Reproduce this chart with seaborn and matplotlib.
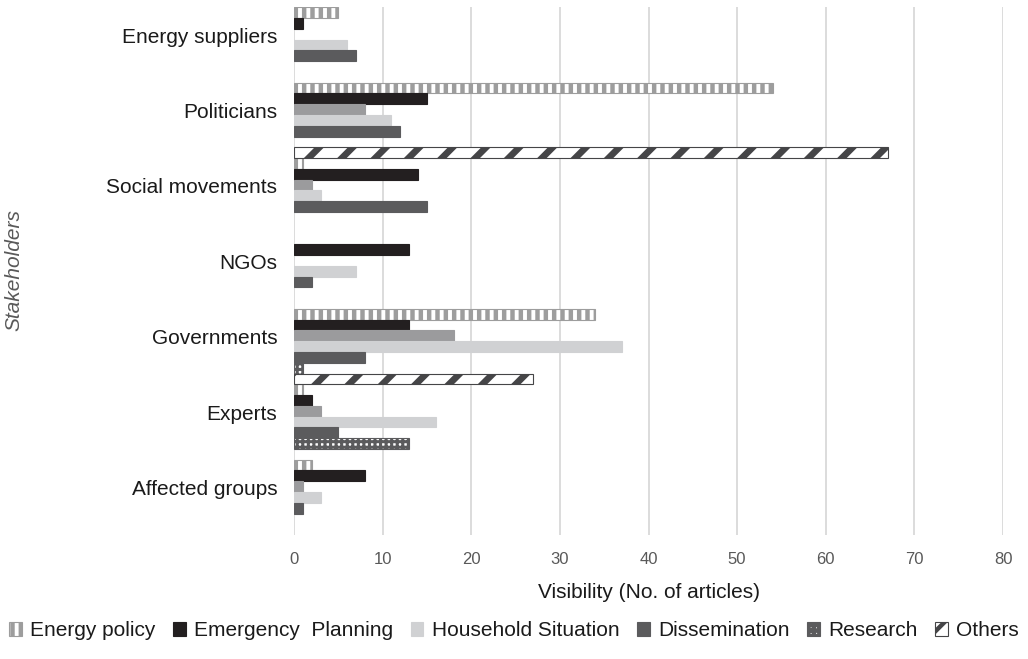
import numpy as np
import pandas as pd
import seaborn as sns
import matplotlib.pyplot as plt
from matplotlib.patches import Patch

stakeholders = ["Energy suppliers", "Politicians", "Social movements", "NGOs",
                "Governments", "Experts", "Affected groups"]
series = ["Energy policy", "Emergency", "Planning", "Household Situation",
          "Dissemination", "Research", "Others"]

energy_policy = [5, 54, 1, 0, 34, 1, 2]
emergency = [1, 15, 14, 13, 13, 2, 8]
planning = [0, 8, 2, 0, 18, 3, 1]
household = [6, 11, 3, 7, 37, 16, 3]
dissemination = [7, 12, 15, 2, 8, 5, 1]
research = [0, 0, 0, 0, 1, 13, 0]
others = [0, 67, 0, 0, 27, 0, 0]

legend_labels = ["Energy policy", "Emergency  Planning", "Household Situation",
                 "Dissemination", "Research", "Others"]

values = [energy_policy, emergency, planning, household, dissemination, research, others]
rows = []
for s, vals in zip(series, values):
    for st, v in zip(stakeholders, vals):
        rows.append({"Stakeholder": st, "Series": s, "Value": v})
df = pd.DataFrame(rows)

# face, hatch/edge colour, hatch pattern
styles = {
    "Energy policy": ("white", "#9d9d9d", "||"),
    "Emergency": ("#231f20", "#231f20", None),
    "Planning": ("#9b9b9d", "#9b9b9d", None),
    "Household Situation": ("#d0d1d3", "#d0d1d3", None),
    "Dissemination": ("#5b5b5d", "#5b5b5d", None),
    "Research": ("white", "#5b5b5d", "+++"),
    "Others": ("white", "#454547", "/"),
}
hatch_lw = {"Energy policy": 3.2, "Research": 2.2, "Others": 4.8}

sns.set_style("white")
plt.rcParams["font.family"] = ["Liberation Sans", "DejaVu Sans"]
plt.rcParams["hatch.linewidth"] = 3.2

fig, ax = plt.subplots(figsize=(10.28, 6.59), dpi=100)
fig.subplots_adjust(left=0.286, right=0.9757, bottom=0.188, top=0.989)

sns.barplot(data=df, y="Stakeholder", x="Value", hue="Series", hue_order=series,
            order=stakeholders, orient="h", width=1.0, dodge=True, errorbar=None,
            palette={s: styles[s][0] for s in series}, legend=False, ax=ax)

for s, cont in zip(series, ax.containers):
    face, edge, hatch = styles[s]
    for bar in cont:
        if bar.get_width() == 0:
            bar.set_visible(False)
            continue
        bar.set_facecolor(face)
        bar.set_edgecolor(edge)
        bar.set_linewidth(0.8)
        if hatch:
            bar.set_hatch(hatch)
            if hasattr(bar, "set_hatch_linewidth"):
                bar.set_hatch_linewidth(hatch_lw[s])

ax.set_xlim(0, 80)
ax.set_xticks(np.arange(0, 81, 10))
ax.tick_params(axis="x", colors="#595959", labelsize=12, length=0, pad=12)
ax.set_yticks(np.arange(len(stakeholders)) - 0.13)
ax.set_yticklabels(stakeholders)
ax.tick_params(axis="y", labelsize=15, length=0, pad=12, labelcolor="#1a1a1a")
ax.xaxis.grid(True, color="#d9d9d9", linewidth=1.3)
ax.set_axisbelow(True)
for sp in ax.spines.values():
    sp.set_visible(False)

ax.set_xlabel("Visibility (No. of articles)", fontsize=15, color="#1a1a1a", labelpad=12)
ax.set_ylabel("")
fig.text(0.014, 0.59, "Stakeholders", rotation=90, style="italic", fontsize=15,
         color="#595959", ha="center", va="center")

handles = []
for s in ["Energy policy", "Emergency", "Household Situation",
          "Dissemination", "Research", "Others"]:
    face, edge, hatch = styles[s]
    handles.append(Patch(facecolor=face, edgecolor=edge, hatch=hatch, linewidth=0.8))
fig.legend(handles, legend_labels, loc="lower center", bbox_to_anchor=(0.5, 0.0),
           ncol=6, frameon=False, fontsize=15, handlelength=0.6, handleheight=0.6,
           handletextpad=0.4, columnspacing=0.85, labelcolor="#1a1a1a")

fig.savefig("out.png", dpi=100)
